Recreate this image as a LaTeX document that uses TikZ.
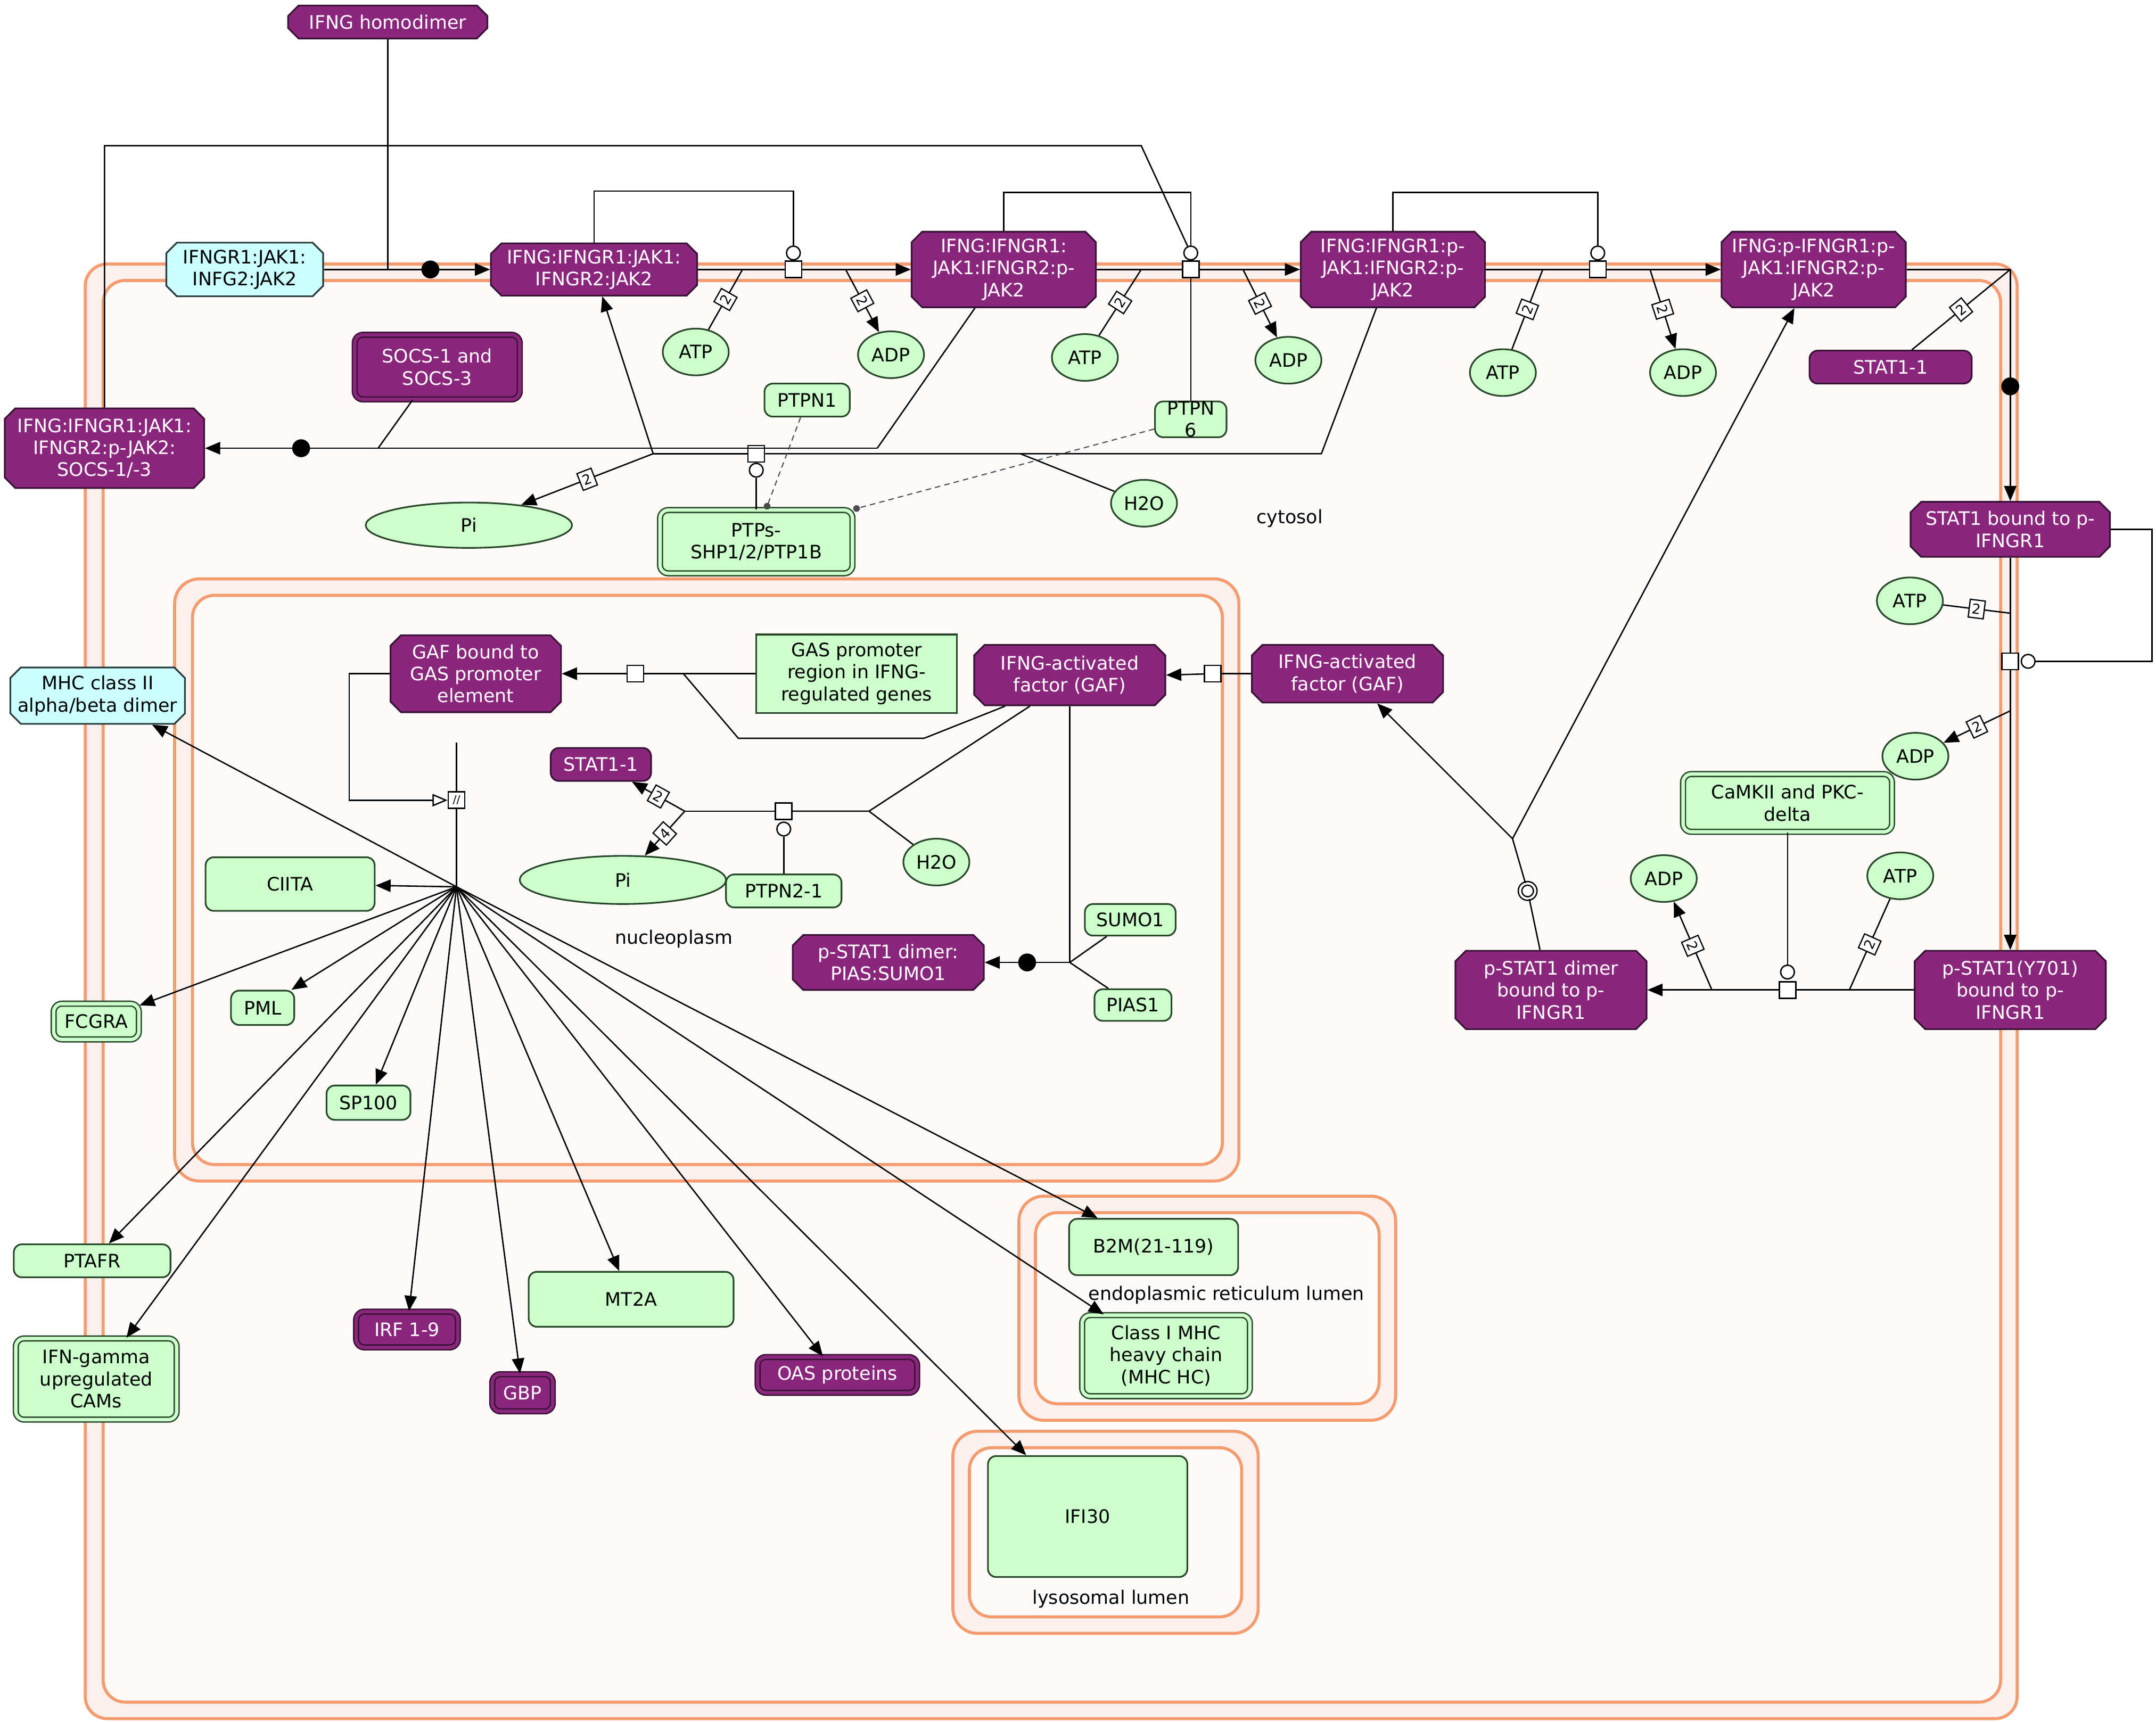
\documentclass[tikz,border=0pt]{standalone}
\usepackage{fontspec}
\setmainfont{DejaVu Sans}
\usetikzlibrary{shapes.misc,shapes.geometric,arrows.meta}
\definecolor{pfill}{RGB}{139,38,125}
\definecolor{pdraw}{RGB}{55,18,52}
\definecolor{gfill}{RGB}{204,255,204}
\definecolor{gdraw}{RGB}{40,70,40}
\definecolor{cfill}{RGB}{204,255,255}
\definecolor{cdraw}{RGB}{40,60,60}
\definecolor{compline}{RGB}{245,155,110}
\definecolor{compout}{RGB}{250,240,237}
\definecolor{compin}{RGB}{253,250,250}
\begin{document}
\begin{tikzpicture}[x=1pt,y=-1pt,line width=1pt,
  every node/.style={font=\fontsize{13.5}{16}\selectfont,align=center,inner sep=0pt},
  sz/.style 2 args={minimum width=#1,minimum height=#2},
  pcx/.style={chamfered rectangle,chamfered rectangle xsep=4pt,draw=pdraw,fill=pfill,text=white,line width=1.2pt},
  ccx/.style={chamfered rectangle,chamfered rectangle xsep=4pt,draw=cdraw,fill=cfill,text=black,line width=1.2pt},
  pprot/.style={rectangle,rounded corners=6pt,draw=pdraw,fill=pfill,text=white,line width=1.2pt},
  pset/.style={rectangle,rounded corners=6pt,draw=pdraw,double=pfill,double distance=2.5pt,fill=pfill,text=white,line width=1pt},
  gprot/.style={rectangle,rounded corners=6pt,draw=gdraw,fill=gfill,line width=1.2pt},
  gset/.style={rectangle,rounded corners=6pt,draw=gdraw,double=gfill,double distance=2.5pt,fill=gfill,line width=1pt},
  gdna/.style={rectangle,draw=gdraw,fill=gfill,line width=1.2pt},
  smol/.style={ellipse,draw=gdraw,fill=gfill,minimum width=48,minimum height=34,line width=1.2pt},
  comp/.style={draw=compline,line width=2.2pt,rounded corners=16pt},
  rsq/.style={rectangle,draw,fill=white,minimum size=12pt,line width=1pt},
  catc/.style={circle,draw,fill=white,minimum size=10pt,line width=1pt},
  bdot/.style={circle,fill=black,minimum size=13pt},
  st/.style={draw,fill=white,sloped,font=\fontsize{10}{10}\selectfont,minimum width=11pt,minimum height=13pt,inner sep=0.5pt,line width=0.9pt},
  arr/.style={-{Triangle[length=11pt,width=9pt]}},
  oarr/.style={-{Triangle[open,length=11pt,width=9pt,fill=white]}},
  dsh/.style={dash pattern=on 4pt off 3pt,draw=black!70,line width=0.8pt,-{Circle[length=5pt]}},
  lbl/.style={font=\fontsize{13.5}{16}\selectfont}
]
\useasboundingbox (0,0) rectangle (1568,1252.4);
\fill[white] (0,0) rectangle (1568,1252.4);

% compartments
\draw[comp,fill=compout] (62,192) rectangle (1467,1250);
\draw[comp,fill=compin] (75,204) rectangle (1455,1238);
\draw[comp,fill=compout,rounded corners=18pt] (127,421) rectangle (901,859);
\draw[comp,fill=compin] (140,433) rectangle (889,847);
\draw[comp,fill=compout,rounded corners=18pt] (741,870) rectangle (1015,1033);
\draw[comp,fill=compin] (753,882) rectangle (1003,1021);
\draw[comp,fill=compout,rounded corners=18pt] (693,1041) rectangle (915,1188);
\draw[comp,fill=compin] (705,1053) rectangle (903,1176);

\node[lbl] (lcyt) at (938,377) {cytosol};
\node[lbl] (lnuc) at (490,683) {nucleoplasm};
\node[lbl] (ler) at (892,942) {endoplasmic reticulum lumen};
\node[lbl] (llys) at (808,1163) {lysosomal lumen};

% entities: top row
\node[pcx,sz={145}{24}] (homod) at (282,16) {IFNG homodimer};
\node[ccx,sz={114}{39}] (rec) at (178,196) {IFNGR1:JAK1:\\INFG2:JAK2};
\node[pcx,sz={150}{38}] (c1) at (432,196) {IFNG:IFNGR1:JAK1:\\IFNGR2:JAK2};
\node[pcx,sz={134}{55}] (c2) at (730,196) {IFNG:IFNGR1:\\JAK1:IFNGR2:p-\\JAK2};
\node[pcx,sz={134}{55}] (c3) at (1013,196) {IFNG:IFNGR1:p-\\JAK1:IFNGR2:p-\\JAK2};
\node[pcx,sz={134}{55}] (c4) at (1319,196) {IFNG:p-IFNGR1:p-\\JAK1:IFNGR2:p-\\JAK2};
\node[pcx,sz={145}{58}] (csocs) at (76,326) {IFNG:IFNGR1:JAK1:\\IFNGR2:p-JAK2:\\SOCS-1/-3};
\node[pset,sz={120}{47}] (socs) at (318,267) {SOCS-1 and\\SOCS-3};
\node[pprot,sz={118}{24}] (stat1a) at (1375,267) {STAT1-1};

\node[smol] (atp1) at (506,256) {ATP};
\node[smol] (adp1) at (648,258) {ADP};
\node[smol] (atp2) at (789,260) {ATP};
\node[smol] (adp2) at (937,262) {ADP};
\node[smol] (atp3) at (1093,271) {ATP};
\node[smol] (adp3) at (1224,271) {ADP};
\node[smol] (h2o1) at (832,366) {H2O};
\node[smol,sz={150}{33}] (pi1) at (341,382) {Pi};

\node[gprot,sz={62}{24}] (ptpn1) at (587,291) {PTPN1};
\node[gprot,sz={52}{26}] (ptpn6) at (866,305) {PTPN\\6};
\node[gset,sz={140}{46}] (ptps) at (550,394) {PTPs-\\SHP1/2/PTP1B};

% nucleus
\node[pcx,sz={124}{56}] (gafgas) at (346,490) {GAF bound to\\GAS promoter\\element};
\node[gdna,sz={146}{57}] (gas) at (623,490) {GAS promoter\\region in IFNG-\\regulated genes};
\node[pcx,sz={139}{44}] (gafin) at (778,491) {IFNG-activated\\factor (GAF)};
\node[pprot,sz={73}{24}] (stat1n) at (437,556) {STAT1-1};
\node[smol,sz={150}{35}] (pi2) at (453,640) {Pi};
\node[gprot,sz={84}{24}] (ptpn2) at (570,648) {PTPN2-1};
\node[smol] (h2o2) at (681,627) {H2O};
\node[pcx,sz={139}{40}] (pdimer) at (646,700) {p-STAT1 dimer:\\PIAS:SUMO1};
\node[gprot,sz={66}{23}] (sumo) at (822,669) {SUMO1};
\node[gprot,sz={56}{23}] (pias) at (824,731) {PIAS1};
\node[gprot,sz={123}{39}] (ciita) at (211,643) {CIITA};
\node[gprot,sz={46}{25}] (pml) at (191,733) {PML};
\node[gprot,sz={61}{25}] (sp100) at (268,802) {SP100};

% targets outside nucleus
\node[ccx,sz={127}{41}] (mhc2) at (71,506) {MHC class II\\alpha/beta dimer};
\node[gset,sz={62}{26}] (fcgra) at (70,743) {FCGRA};
\node[gprot,sz={114}{24}] (ptafr) at (67,917) {PTAFR};
\node[gset,sz={117}{59}] (cams) at (70,1003) {IFN-gamma\\upregulated\\CAMs};
\node[pset,sz={74}{26}] (irf) at (296,967) {IRF 1-9};
\node[pset,sz={44}{27}] (gbp) at (380,1013) {GBP};
\node[gprot,sz={149}{40}] (mt2a) at (459,945) {MT2A};
\node[pset,sz={116}{26}] (oas) at (609,1000) {OAS proteins};
\node[gprot,sz={123}{41}] (b2m) at (839,907) {B2M(21-119)};
\node[gset,sz={122}{59}] (mhchc) at (848,986) {Class I MHC\\heavy chain\\(MHC HC)};
\node[gprot,sz={145}{88}] (ifi30) at (791,1103) {IFI30};

% right side
\node[pcx,sz={139}{42}] (gafout) at (980,490) {IFNG-activated\\factor (GAF)};
\node[pcx,sz={145}{40}] (stat1b) at (1462,385) {STAT1 bound to p-\\IFNGR1};
\node[smol] (atp4) at (1389,437) {ATP};
\node[smol] (adp4) at (1393,550) {ADP};
\node[gset,sz={152}{42}] (camk) at (1300,584) {CaMKII and PKC-\\delta};
\node[smol] (adp5) at (1210,639) {ADP};
\node[smol] (atp5) at (1382,637) {ATP};
\node[pcx,sz={139}{57}] (pstat) at (1462,720) {p-STAT1(Y701)\\bound to p-\\IFNGR1};
\node[pcx,sz={139}{57}] (pdimb) at (1128,720) {p-STAT1 dimer\\bound to p-\\IFNGR1};

% process glyphs and junctions
\coordinate (j0) at (282,196);
\node[bdot] (bd0) at (313,196) {};
\node[rsq] (r1) at (577,196) {};
\node[catc] (r1c) at (577,184) {};
\coordinate (m1a) at (577,139);
\coordinate (r1i) at (540,196);
\coordinate (r1o) at (615,196);
\node[rsq] (r2) at (866,196) {};
\node[catc] (r2c) at (866,184) {};
\coordinate (m2a) at (866,140);
\coordinate (r2i) at (830,196);
\coordinate (r2o) at (904,196);
\coordinate (fb1) at (76,106);
\coordinate (fb2) at (830,106);
\node[rsq] (r3) at (1162,196) {};
\node[catc] (r3c) at (1162,184) {};
\coordinate (m3a) at (1162,140);
\coordinate (r3i) at (1122,196);
\coordinate (r3o) at (1200,196);
\coordinate (k4) at (1462,196);
\node[bdot] (bd4) at (1462,281) {};
\coordinate (a1) at (638,326);
\coordinate (a2) at (275,326);
\node[bdot] (bd5) at (219,326) {};
\coordinate (b1) at (961,330);
\node[rsq] (r6) at (550,330) {};
\node[catc] (r6c) at (550,342) {};
\coordinate (b2) at (475,330);
\coordinate (b3) at (742,330);
\node[rsq] (r7) at (462,490) {};
\coordinate (g1) at (497,490);
\coordinate (g2) at (672,537);
\coordinate (g3) at (537,537);
\node[rsq] (r8) at (332,582) {\fontsize{8}{8}\selectfont //};
\coordinate (t1) at (254,490);
\coordinate (t2) at (332,540);
\coordinate (hub) at (332,645);
\node[rsq] (r9) at (570,590) {};
\node[catc] (r9c) at (570,603) {};
\coordinate (d1) at (632,590);
\coordinate (d2) at (498,590);
\coordinate (s1) at (778,700);
\node[bdot] (bd10) at (747,700) {};
\node[rsq] (r11) at (1462,481) {};
\node[catc] (r11c) at (1475,481) {};
\coordinate (m11a) at (1565,481);
\coordinate (m11b) at (1565,385);
\coordinate (e1) at (1462,446);
\coordinate (e2) at (1462,517);
\node[rsq] (r12) at (1300,720) {};
\node[catc] (r12c) at (1300,707) {};
\coordinate (f1) at (1345,720);
\coordinate (f2) at (1245,720);
\node[circle,draw,double,double distance=1.6pt,fill=white,minimum size=11pt] (r13) at (1111,648) {};
\coordinate (h1) at (1100,610);
\node[rsq] (r14) at (882,490) {};

% R0 binding at membrane
\draw[arr] (rec.east) -- (c1.west);
\draw (homod) -- (j0);
% R1
\draw (c1.east) -- (r1);
\draw[arr] (r1) -- (c2.west);
\draw (r1c) -- (m1a) -| (c1.north);
\draw (atp1) -- node[st]{2} (r1i);
\draw[arr] (r1o) -- node[st]{2} (adp1);
% R2
\draw (c2.east) -- (r2);
\draw[arr] (r2) -- (c3.west);
\draw (r2c) -- (m2a) -| (c2.north);
\draw (ptpn6) -- (r2);
\draw (atp2) -- node[st]{2} (r2i);
\draw[arr] (r2o) -- node[st]{2} (adp2);
\draw (csocs.north) -- (fb1) -- (fb2) -- (r2c);
% R3
\draw (c3.east) -- (r3);
\draw[arr] (r3) -- (c4.west);
\draw (r3c) -- (m3a) -| (c3.north);
\draw (atp3) -- node[st]{2} (r3i);
\draw[arr] (r3o) -- node[st]{2} (adp3);
% R4
\draw (c4.east) -- (k4);
\draw[arr] (k4) -- (stat1b.north);
\draw (stat1a) -- node[st]{2} (k4);
% R5 SOCS binding
\draw ([xshift=-21pt]c2.south) -- (a1);
\draw[arr] (a1) -- (csocs.east);
\draw ([xshift=-18pt]socs.south) -- (a2);
% R6 dephosphorylation
\draw ([xshift=-12pt]c3.south) -- (b1) -- (r6);
\draw (r6) -- (b2);
\draw[arr] (b2) -- ([xshift=6pt]c1.south);
\draw[arr] (b2) -- node[st]{2} (pi1);
\draw (h2o1) -- (b3);
\draw (r6c) -- (ptps);
\draw[dsh] (ptpn1) -- ([xshift=7pt]ptps.north);
\draw[dsh] (ptpn6) -- (ptps.north east);
% R7
\draw (gas.west) -- (r7);
\draw[arr] (r7) -- (gafgas.east);
\draw ([xshift=-47pt]gafin.south) -- (g2) -- (g3) -- (g1);
% R8 transcription
\draw[oarr] (gafgas.west) -- (t1) |- (r8);
\draw (t2) -- (r8);
\draw (r8) -- (hub);
\foreach \t in {mhc2,ciita,fcgra,pml,sp100,ptafr,cams,irf,gbp,mt2a,oas,ifi30,mhchc,b2m}
  \draw[arr] (hub) -- (\t);
% R9
\draw ([xshift=-29pt]gafin.south) -- (d1) -- (r9);
\draw (r9) -- (d2);
\draw[arr] (d2) -- node[st]{2} (stat1n);
\draw[arr] (d2) -- node[st]{4} (pi2);
\draw (h2o2) -- (d1);
\draw (r9c) -- (ptpn2);
% R10
\draw (gafin.south) -- (s1);
\draw[arr] (s1) -- (pdimer.east);
\draw (sumo) -- (s1);
\draw (pias) -- (s1);
% R11
\draw (stat1b.south) -- (r11);
\draw[arr] (r11) -- (pstat.north);
\draw (r11c) -- (m11a) -- (m11b) -- (stat1b.east);
\draw (atp4) -- node[st]{2} (e1);
\draw[arr] (e2) -- node[st]{2} (adp4);
% R12
\draw (pstat.west) -- (r12);
\draw[arr] (r12) -- (pdimb.east);
\draw (camk) -- (r12c);
\draw (atp5) -- node[st]{2} (f1);
\draw[arr] (f2) -- node[st]{2} (adp5);
% R13
\draw ([xshift=-8pt]pdimb.north) -- (r13) -- (h1);
\draw[arr] (h1) -- (gafout);
\draw[arr] (h1) -- ([xshift=-14pt]c4.south);
% R14
\draw (gafout.west) -- (r14);
\draw[arr] (r14) -- (gafin.east);
\end{tikzpicture}
\end{document}
